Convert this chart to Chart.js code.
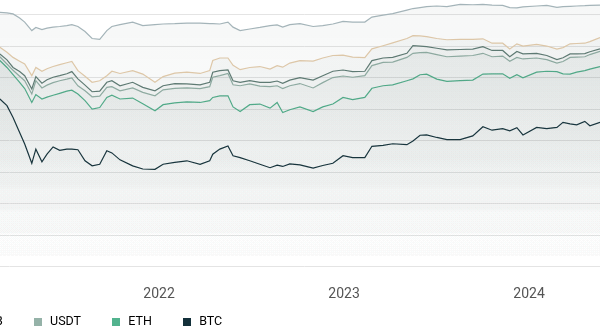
<!DOCTYPE html>
<html>
<head>
<meta charset="utf-8">
<script src="https://cdn.jsdelivr.net/npm/chart.js@4.4.1/dist/chart.umd.min.js"></script>
<style>
    html, body { margin: 0; padding: 0; background: #fff; overflow: hidden; width: 600px; height: 330px; }
    #contenedor { position: absolute; left: -581px; top: -17px; width: 1181px; height: 391px; }
</style>
</head>
<body>
<div id="contenedor"><canvas id="grafico"></canvas></div>
<script>
// -----------------------------
// DATOS (días desde 2021-01-01, valores en %)
// -----------------------------
const dias = [51, 65, 77, 90, 100, 114, 122, 134, 144, 156, 169, 183, 193, 205, 219, 233, 248, 262, 272, 288,
    313, 333, 357, 373, 396, 420, 446, 465, 471, 485, 501, 511, 525, 544, 564, 584, 598, 609, 623, 643,
    669, 688, 708, 728, 747, 771, 785, 807, 826, 854, 866, 880, 893, 913, 933, 959, 984, 1004, 1022, 1043,
    1057, 1071, 1083, 1110, 1130, 1150, 1162, 1176, 1189, 1205, 1215, 1235];

const otros = [80.7, 80.5, 80.2, 78.9, 77.6, 74.9, 75.9, 75.2, 75.7, 76.0, 76.2, 76.5, 76.8, 76.2, 74.6, 72.4, 72.1, 74.9, 76.2, 76.8,
    77.6, 76.5, 76.8, 77.0, 77.1, 77.3, 77.3, 77.1, 77.1, 77.0, 77.6, 76.0, 74.9, 75.4, 75.9, 76.5, 76.7, 76.0, 76.8, 77.1,
    76.2, 76.5, 77.0, 77.8, 77.6, 77.6, 79.2, 79.8, 80.3, 81.4, 81.9, 82.2, 82.5, 82.7, 82.5, 83.2, 83.1, 83.2, 83.0, 82.9,
    82.2, 82.1, 82.4, 82.7, 82.9, 82.3, 82.5, 82.6, 82.7, 82.8, 82.9, 83.0];

const usdc = [69.6, 68.0, 66.4, 65.2, 64.3, 60.6, 63.2, 62.0, 62.8, 63.5, 64.1, 64.7, 65.1, 62.2, 60.4, 58.5, 59.0, 60.6, 62.0, 61.3,
    62.2, 61.1, 58.5, 60.3, 61.4, 61.7, 61.3, 62.2, 65.4, 66.2, 66.2, 63.9, 62.5, 63.2, 63.5, 62.7, 63.8, 63.3, 64.6, 65.4,
    65.2, 66.2, 67.0, 67.1, 66.5, 66.3, 69.1, 70.1, 71.0, 72.4, 73.3, 73.2, 73.0, 72.4, 72.0, 72.1, 72.1, 72.3, 70.9, 70.9,
    69.1, 70.7, 70.0, 70.5, 70.0, 69.0, 69.5, 70.7, 70.8, 70.9, 71.4, 72.7];

const bnb = [67.5, 65.6, 63.2, 61.9, 60.6, 56.4, 60.3, 58.2, 59.3, 60.1, 60.6, 61.2, 61.9, 59.6, 57.6, 55.5, 55.7, 58.5, 59.0, 57.4,
    58.5, 56.9, 55.8, 57.4, 58.1, 58.0, 57.7, 58.5, 61.7, 62.2, 62.4, 59.0, 58.5, 59.0, 58.5, 58.5, 58.9, 58.2, 59.2, 60.0,
    59.2, 60.6, 62.0, 62.4, 61.9, 62.0, 65.4, 66.2, 66.4, 67.7, 70.1, 70.0, 69.8, 69.3, 68.8, 68.9, 69.0, 69.8, 68.6, 68.6,
    66.6, 68.3, 67.5, 67.7, 67.0, 65.7, 66.3, 67.5, 67.5, 67.6, 68.2, 69.1];

const usdt = [66.6, 64.3, 62.3, 60.4, 59.0, 54.8, 59.0, 56.7, 57.6, 58.4, 59.0, 59.5, 59.9, 57.4, 55.8, 53.9, 54.1, 56.9, 57.1, 55.8,
    56.7, 55.3, 54.2, 56.1, 56.6, 56.7, 56.5, 57.1, 60.1, 60.6, 61.3, 57.7, 57.4, 58.0, 57.3, 57.1, 57.4, 56.5, 57.4, 58.1,
    56.7, 58.4, 60.0, 60.5, 60.1, 60.6, 63.8, 64.8, 64.9, 66.4, 67.7, 67.9, 68.0, 67.3, 66.6, 66.8, 67.0, 67.7, 66.6, 66.8,
    65.2, 66.4, 65.9, 66.2, 65.7, 64.6, 65.1, 66.4, 66.5, 66.6, 67.3, 68.3];

const eth = [65.4, 63.2, 60.9, 58.5, 56.5, 52.1, 54.6, 53.2, 53.8, 54.4, 55.0, 55.7, 56.0, 54.8, 52.7, 50.0, 50.5, 53.7, 54.4, 53.2,
    53.5, 51.7, 49.5, 51.4, 52.0, 52.3, 52.1, 52.7, 53.7, 54.2, 54.2, 50.7, 49.2, 51.4, 51.6, 50.3, 52.1, 48.9, 49.8, 50.7,
    49.2, 50.7, 51.6, 53.7, 53.0, 53.7, 56.6, 57.4, 57.7, 59.0, 59.6, 60.9, 61.1, 59.5, 58.8, 59.0, 59.2, 61.1, 61.2, 61.2,
    59.8, 60.9, 59.9, 61.7, 62.0, 61.9, 61.2, 61.1, 61.7, 62.2, 62.7, 63.5];

const btc = [53.2, 51.1, 47.3, 42.6, 38.9, 32.8, 37.3, 33.3, 35.7, 38.0, 36.9, 37.3, 37.3, 37.1, 33.6, 32.0, 32.5, 36.8, 36.1, 33.9,
    32.0, 31.0, 30.9, 32.5, 33.1, 33.6, 32.5, 33.6, 35.7, 37.3, 38.3, 35.2, 34.6, 33.6, 32.5, 31.4, 32.2, 31.8, 32.6, 32.3,
    31.3, 32.1, 32.8, 35.2, 34.6, 34.6, 38.2, 38.5, 39.0, 38.7, 39.9, 41.7, 41.8, 41.0, 40.3, 40.3, 41.5, 44.4, 43.3, 43.8,
    43.1, 44.1, 41.8, 44.2, 43.8, 44.2, 45.8, 45.3, 45.0, 46.1, 44.7, 45.8];

const nombres = ["Others", "USDC", "BNB", "USDT", "ETH", "BTC"];
const colores = ["#a4b4b9", "#e3cbab", "#607c75", "#95b2a8", "#52b38e", "#13303a"];

const diasAnio = [365, 730, 1095];
const etiquetasAnio = ["2022", "2023", "2024"];

// -----------------------------
// AUXILIARES
// -----------------------------
function degradado(context) {
    const area = context.chart.chartArea;
    if (!area) return "rgba(70, 95, 90, 0.04)";
    const g = context.chart.ctx.createLinearGradient(0, area.top, 0, area.bottom);
    g.addColorStop(0, "rgba(70, 95, 90, 0.05)");
    g.addColorStop(1, "rgba(70, 95, 90, 0)");
    return g;
}

// cuadradito de 8px para la leyenda (se centra en un hueco de 12px)
function cuadrado(color) {
    const c = document.createElement("canvas");
    c.width = 8;
    c.height = 8;
    const ctx = c.getContext("2d");
    ctx.fillStyle = color;
    ctx.fillRect(0, 0, 8, 8);
    return c;
}

// la leyenda se sube para quedar pegada a las etiquetas de los años
const subirLeyenda = {
    id: "subirLeyenda",
    beforeDraw(chart) {
        const l = chart.legend;
        const alto = l.bottom - l.top;
        l.top = chart.chartArea.bottom + 19.75;
        l.bottom = l.top + alto;
    }
};

// -----------------------------
// GRÁFICO
// -----------------------------
const series = [otros, usdc, bnb, usdt, eth, btc];

const datasets = series.map((serie, i) => ({
    label: nombres[i],
    data: dias.map((d, j) => ({ x: d, y: serie[j] })),
    borderColor: colores[i],
    borderWidth: 1.2,
    backgroundColor: degradado,
    fill: "origin",
    pointRadius: 0,
    tension: 0
}));

Chart.defaults.font.family = "Roboto";

new Chart(document.getElementById("grafico"), {
    type: "line",
    data: { datasets },
    plugins: [subirLeyenda],
    options: {
        responsive: true,
        maintainAspectRatio: false,
        animation: false,
        layout: { padding: 0 },
        scales: {
            x: {
                type: "linear",
                min: -1095,
                max: 1235,
                grid: { display: false, drawTicks: false },
                border: { display: false },
                afterBuildTicks: (eje) => { eje.ticks = diasAnio.map(v => ({ value: v })); },
                ticks: {
                    padding: 19.5,
                    color: "#555",
                    font: { size: 14 },
                    maxRotation: 0,
                    autoSkip: false,
                    callback: (v) => etiquetasAnio[diasAnio.indexOf(v)]
                }
            },
            y: {
                min: 0,
                max: 90,
                ticks: { stepSize: 10, display: false },
                grid: { color: "#e4e4e4", drawTicks: false },
                border: { display: false }
            }
        },
        plugins: {
            tooltip: { enabled: false },
            legend: {
                position: "bottom",
                labels: {
                    usePointStyle: true,
                    pointStyleWidth: 12,
                    boxHeight: 8,
                    padding: 29,
                    color: "#4d4d4d",
                    font: { size: 12.5 },
                    generateLabels: (chart) => chart.data.datasets.map((ds, i) => ({
                        text: ds.label,
                        fillStyle: ds.borderColor,
                        strokeStyle: ds.borderColor,
                        pointStyle: cuadrado(ds.borderColor),
                        lineWidth: 0,
                        hidden: false,
                        datasetIndex: i
                    }))
                }
            }
        }
    }
});
</script>
</body>
</html>
